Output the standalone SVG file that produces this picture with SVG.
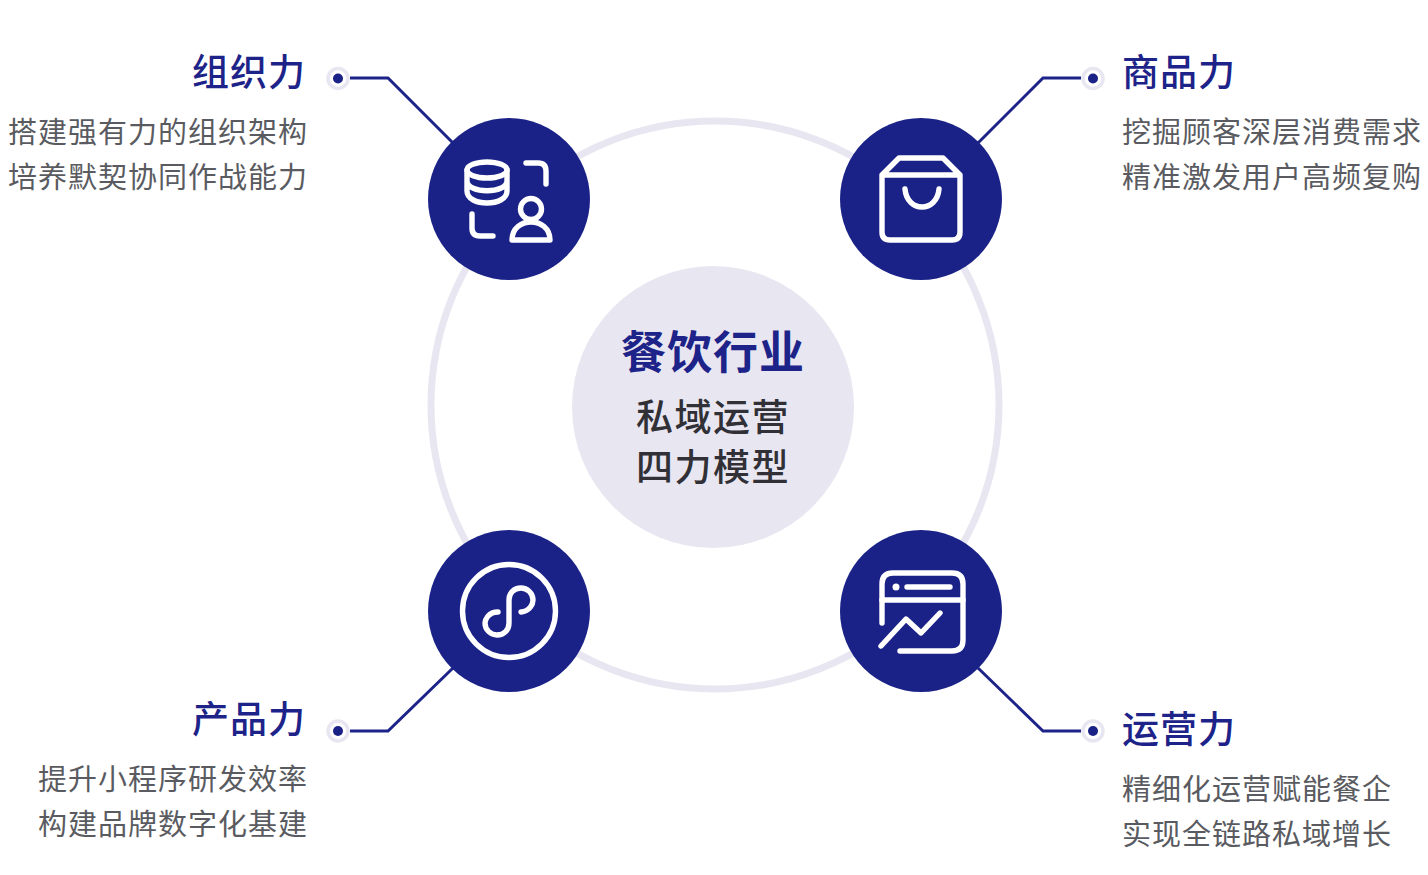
<svg xmlns="http://www.w3.org/2000/svg" width="1428" height="875" viewBox="0 0 1428 875">
<style>
text{font-family:"Noto Sans CJK SC","Noto Sans",sans-serif}
.h{font-size:37px;font-weight:500;fill:#1d2388;letter-spacing:1px}
.d{font-size:29px;font-weight:400;fill:#5a5b61;letter-spacing:1px}
.c{font-size:37px;font-weight:500;fill:#303036;letter-spacing:1.5px}
.n{fill:#1b2287}
.i{fill:none;stroke:#fff;stroke-width:5.400;stroke-linecap:round;stroke-linejoin:round}
.l{fill:none;stroke:#1d2388;stroke-width:3}
.r{fill:#fff;stroke:#e8e6f1;stroke-width:3.5}
.p{fill:#1b2287}
</style>
<rect width="1428" height="875" fill="#fff"/>
<circle cx="715" cy="405" r="284" fill="none" stroke="#e8e6f1" stroke-width="7"/>
<g id="connectors">
<polyline class="l" points="350,78 388,78 453,143"/>
<polyline class="l" points="1081,78 1043,78 978,143"/>
<polyline class="l" points="350,731 388,731 453,668"/>
<polyline class="l" points="1081,731 1043,731 978,668"/>
<circle class="r" cx="338" cy="78.500" r="10"/><circle class="p" cx="338" cy="78.500" r="5"/>
<circle class="r" cx="1093" cy="78.500" r="10"/><circle class="p" cx="1093" cy="78.500" r="5"/>
<circle class="r" cx="338" cy="731" r="10"/><circle class="p" cx="338" cy="731" r="5"/>
<circle class="r" cx="1093" cy="731" r="10"/><circle class="p" cx="1093" cy="731" r="5"/>
</g>
<g id="center">
<circle cx="713" cy="407" r="141" fill="#e8e6f1"/>
<text x="713" y="369" text-anchor="middle" style="font-size:45px;font-weight:700;fill:#1d2388;letter-spacing:1px">餐饮行业</text>
<text class="c" x="713" y="431" text-anchor="middle">私域运营</text>
<text class="c" x="713" y="481" text-anchor="middle">四力模型</text>
</g>
<g id="node-org">
<circle class="n" cx="509" cy="199" r="81"/>
<g class="i">
<ellipse cx="487" cy="170" rx="20" ry="8"/>
<path d="M467 170V191C467 207 507 207 507 191V170M467 181C467 194 507 194 507 181"/>
<path d="M526 163H538Q546 163 546 171V184M472 214V228Q472 236 480 236H493"/>
<circle cx="531" cy="209" r="10.500"/>
<path d="M512 240C512 216 550 216 550 240Z"/>
</g>
<text class="h" x="306" y="86" text-anchor="end">组织力</text>
<text class="d" x="308" y="143" text-anchor="end">搭建强有力的组织架构</text>
<text class="d" x="308" y="188" text-anchor="end">培养默契协同作战能力</text>
</g>
<g id="node-goods">
<circle class="n" cx="921" cy="199" r="81"/>
<g class="i">
<path d="M899 158H943L960 175V232Q960 240 952 240H890Q882 240 882 232V175ZM882 175H960"/>
<path d="M905 189C907 213 937 213 939 189"/>
</g>
<text class="h" x="1122" y="86">商品力</text>
<text class="d" x="1122" y="143">挖掘顾客深层消费需求</text>
<text class="d" x="1122" y="188">精准激发用户高频复购</text>
</g>
<g id="node-product">
<circle class="n" cx="509" cy="611" r="81"/>
<g class="i">
<circle cx="509" cy="611" r="46.500"/>
<path d="M498 612C488 612 485 620 485 623C485 630 491 635 497 635C504 635 509 630 509 623V600C509 593 514 588 521 588C527 588 533 593 533 600C533 604 530 611 521 612"/>
</g>
<text class="h" x="306" y="733" text-anchor="end">产品力</text>
<text class="d" x="308" y="790" text-anchor="end">提升小程序研发效率</text>
<text class="d" x="308" y="835" text-anchor="end">构建品牌数字化基建</text>
</g>
<g id="node-ops">
<circle class="n" cx="921" cy="611" r="81"/>
<g class="i">
<path d="M882 623V584Q882 573 893 573H952Q963 573 963 584V640Q963 651 952 651H900"/>
<path d="M882 600H963M907 587H950"/>
<path d="M881 646L906 619L921 633L940 613"/>
</g>
<circle cx="896" cy="587" r="3.500" fill="#fff"/>
<text class="h" x="1122" y="743">运营力</text>
<text class="d" x="1122" y="800">精细化运营赋能餐企</text>
<text class="d" x="1122" y="845">实现全链路私域增长</text>
</g>
</svg>
